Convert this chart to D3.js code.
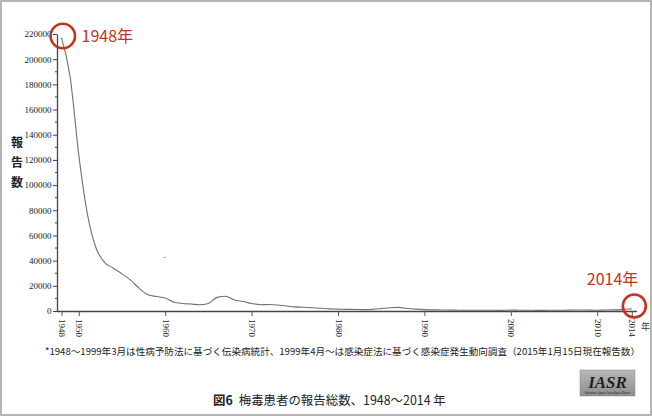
<!DOCTYPE html>
<html><head><meta charset="utf-8">
<script src="https://cdn.jsdelivr.net/npm/d3@7"></script>
<style>html,body{margin:0;padding:0;background:#fff;}svg{display:block;}</style>
</head><body>
<svg id="c" width="652" height="416"></svg>
<script>
const years = d3.range(1948, 2015);
const cases = [
 217000,186000,124000,77000,50000,38500,34000,29500,24500,18000,
 13000,11500,10300,7000,6000,5500,5000,6000,10800,11700,
 8800,7500,6000,5000,5200,4800,4000,3300,3000,2600,
 2200,1700,1500,1300,1200,1100,1300,1900,2600,2900,
 2000,1500,1100,900,800,700,650,600,600,550,
 550,500,760,585,575,509,533,543,637,719,
 827,691,621,827,875,1228,1661];
const xTicks = [1948,1950,1960,1970,1980,1990,2000,2010,2014];
const yTicks = d3.range(0, 220001, 20000);
const yMinor = d3.range(10000, 220000, 20000);
const yLabel = ["報","告","数"];
const footnote = "*1948～1999年3月は性病予防法に基づく伝染病統計、1999年4月～は感染症法に基づく感染症発生動向調査（2015年1月15日現在報告数）";
const captionHead = "図6";
const captionBody = "梅毒患者の報告総数、1948～2014 年";
const marks = [{year:1948, value:217000, label:"1948年"},{year:2014, value:1661, label:"2014年"}];

const svg = d3.select("#c");
const serif = "'Liberation Serif','DejaVu Serif',serif";
const jp = "'Noto Sans CJK JP','Noto Sans',sans-serif";

const x = d3.scaleLinear().domain([1948, 2014]).range([61.5, 631.8]);
const y = d3.scaleLinear().domain([0, 220000]).range([311, 34]);

// frame
svg.append("rect").attr("x",1).attr("y",1).attr("width",650).attr("height",414)
  .attr("fill","none").attr("stroke","#b4b4b4").attr("stroke-width",2);

// y axis
const yAxis = d3.axisLeft(y).tickValues(yTicks).tickSize(4).tickSizeOuter(0)
  .tickFormat(d3.format("d"));
const gy = svg.append("g").attr("transform","translate(57,0)").call(yAxis);
gy.select(".domain").attr("stroke","#444").attr("stroke-width",1.3);
gy.selectAll(".tick line").attr("stroke","#444");
gy.selectAll(".tick text").attr("font-family",serif).attr("font-size",9)
  .attr("fill","#222").attr("x",-5.5);
gy.selectAll(".minor").data(yMinor).enter().append("line")
  .attr("x1",-2).attr("x2",0).attr("y1",d=>y(d)).attr("y2",d=>y(d))
  .attr("stroke","#444");

// x axis
const xAxis = d3.axisBottom(x).tickValues(xTicks).tickSize(5).tickSizeOuter(0)
  .tickFormat(d3.format("d"));
const gx = svg.append("g").attr("transform","translate(0,311)").call(xAxis);
gx.select(".domain").attr("d","M57,0.5H637").attr("stroke","#444").attr("stroke-width",1.6);
gx.selectAll(".tick line").attr("stroke","#555");
gx.selectAll(".tick text").attr("font-family",serif).attr("font-size",9).attr("fill","#222")
  .attr("transform","rotate(90)").attr("text-anchor","start")
  .attr("x",8).attr("y",0).attr("dy","0.33em");
svg.append("text").attr("x",641).attr("y",330).attr("font-family",jp).attr("font-size",9)
  .attr("fill","#333").text("年");

// y label
svg.append("g").selectAll("text").data(yLabel).enter().append("text")
  .attr("x",17).attr("y",(d,i)=>147+i*20).attr("text-anchor","middle")
  .attr("font-family",jp).attr("font-size",12).attr("font-weight","bold").attr("fill","#222").text(d=>d);

// line
const line = d3.line().x((d,i)=>x(years[i])).y(d=>y(d)).curve(d3.curveMonotoneX);
svg.append("path").datum(cases).attr("d",line).attr("fill","none")
  .attr("stroke","#707070").attr("stroke-width",1.1);

// small stray mark
svg.append("line").attr("x1",x(1959.8)).attr("x2",x(1960.1)).attr("y1",y(42500)).attr("y2",y(42500))
  .attr("stroke","#aaa").attr("stroke-width",1);

// annotations
const red = "#c1351c";
svg.append("circle").attr("cx",x(1948)+1.3).attr("cy",y(220000)+2).attr("r",12.2)
  .attr("fill","none").attr("stroke",red).attr("stroke-width",2.6);
svg.append("circle").attr("cx",x(2014)+2.5).attr("cy",y(0)-5).attr("r",11.5)
  .attr("fill","none").attr("stroke",red).attr("stroke-width",2.6);
svg.append("text").attr("x",x(1948)+20).attr("y",41.5).attr("font-family",jp).attr("font-size",16)
  .attr("fill",red).text(marks[0].label);
svg.append("text").attr("x",x(2014)-45).attr("y",285).attr("font-family",jp).attr("font-size",16)
  .attr("fill",red).text(marks[1].label);

// footnote: size font so its natural width fits the reference span
const fn = svg.append("text").attr("x",45).attr("y",355).attr("font-family",jp).attr("font-size",11)
  .attr("fill","#222").text(footnote);
const fnW = fn.node().getComputedTextLength();
fn.attr("font-size", Math.min(11, 11*596/fnW));

// caption
const cap = svg.append("text").attr("x",213).attr("y",405).attr("font-family",jp).attr("font-size",12.5)
  .attr("fill","#222");
cap.append("tspan").attr("font-weight","bold").text(captionHead);
cap.append("tspan").attr("dx",6).text(captionBody);
const capW = cap.node().getComputedTextLength();
cap.attr("font-size", Math.min(12.5, 12.5*227/capW));

// IASR logo
const defs = svg.append("defs");
const grad = defs.append("linearGradient").attr("id","lg").attr("x1",0).attr("y1",0).attr("x2",0).attr("y2",1);
grad.append("stop").attr("offset","0%").attr("stop-color","#b8b8b8");
grad.append("stop").attr("offset","100%").attr("stop-color","#8e8e8e");
svg.append("rect").attr("x",580).attr("y",370).attr("width",55).attr("height",26)
  .attr("fill","url(#lg)").attr("stroke","#888").attr("stroke-width",0.5);
svg.append("text").attr("x",607.5).attr("y",388).attr("text-anchor","middle")
  .attr("font-family",serif).attr("font-style","italic").attr("font-weight","bold")
  .attr("font-size",17).attr("fill","#222").text("IASR");
svg.append("text").attr("x",607.5).attr("y",394).attr("text-anchor","middle")
  .attr("font-family",serif).attr("font-style","italic").attr("font-size",3)
  .attr("fill","#222").text("Infectious Agents Surveillance Report");
</script>
</body></html>
